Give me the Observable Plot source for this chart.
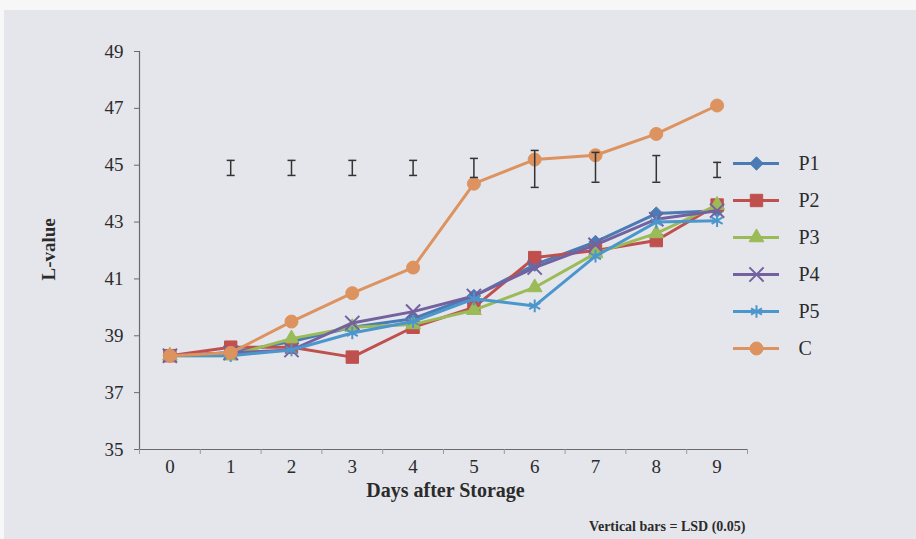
<!DOCTYPE html>
<html><head><meta charset="utf-8">
<script src="https://cdn.jsdelivr.net/npm/d3@7"></script>
<script src="https://cdn.jsdelivr.net/npm/@observablehq/plot@0.6"></script>
<style>
html,body{margin:0;padding:0;background:#f7f7f8;width:916px;height:539px;overflow:hidden;}
#bg{position:absolute;left:4px;top:10px;width:912px;height:529px;background:#e5e6eb;}
#chart{position:absolute;left:0;top:0;}
#legend{position:absolute;left:720px;top:143px;}
</style></head><body>
<div id="bg"></div><div id="chart"></div><div id="legend"></div>
<script>
// ---- data ----
const days = [0, 1, 2, 3, 4, 5, 6, 7, 8, 9];
const seriesNames = ["P1", "P2", "P3", "P4", "P5", "C"];
const P1 = [38.3, 38.4, 38.8, 39.3, 39.6, 40.4, 41.5, 42.3, 43.3, 43.4];
const P2 = [38.3, 38.6, 38.6, 38.25, 39.3, 40.0, 41.75, 42.0, 42.35, 43.6];
const P3 = [38.3, 38.3, 38.9, 39.3, 39.4, 39.9, 40.7, 41.9, 42.6, 43.6];
const P4 = [38.3, 38.4, 38.5, 39.45, 39.85, 40.4, 41.4, 42.2, 43.1, 43.4];
const P5 = [38.3, 38.3, 38.5, 39.1, 39.5, 40.3, 40.05, 41.8, 43.0, 43.05];
const C  = [38.3, 38.4, 39.5, 40.5, 41.4, 44.35, 45.2, 45.35, 46.1, 47.1];
const lsdDays = [1, 2, 3, 4, 5, 6, 7, 8, 9];
const lsdLow  = [44.64, 44.64, 44.64, 44.64, 44.57, 44.22, 44.4, 44.4, 44.57];
const lsdHigh = [45.17, 45.17, 45.17, 45.17, 45.24, 45.52, 45.45, 45.34, 45.1];
const yTicks = [35, 37, 39, 41, 43, 45, 47, 49];
const xTitle = "Days after Storage";
const yTitle = "L-value";
const note = "Vertical bars = LSD (0.05)";

// ---- styles ----
const values = [P1, P2, P3, P4, P5, C];
const colors = ["#4a7bb4", "#c0504d", "#9bbb59", "#7461a0", "#4b96cc", "#dd935f"];
const symbols = ["diamond2", "square", "triangle", "times", "asterisk", "circle"];
const hollow = [false, false, false, true, true, false];
const radii = [6, 7, 5.5, 6.5, 6, 6.5];
const font = "'Liberation Serif', 'Times New Roman', serif";
const ink = "#2b2b2b";
const axisInk = "#6a6a6a";

const capSymbol = {draw(ctx, size) {const r = Math.sqrt(size / Math.PI); ctx.moveTo(-r, 0); ctx.lineTo(r, 0);}};
const lsdRows = lsdDays.map((d, i) => ({day: d, low: lsdLow[i], high: lsdHigh[i]}));
const capRows = lsdRows.flatMap(r => [{day: r.day, v: r.low}, {day: r.day, v: r.high}]);
const betweenTicks = [-0.5, ...days.map(d => d + 0.5)];

const seriesMarks = seriesNames.flatMap((s, i) => [
  Plot.line(days, {x: d => d, y: (d, j) => values[i][j], stroke: colors[i], strokeWidth: 3}),
  Plot.dot(days, {x: d => d, y: (d, j) => values[i][j], symbol: symbols[i], r: radii[i],
    fill: hollow[i] ? "none" : colors[i], stroke: colors[i], strokeWidth: hollow[i] ? 2 : 1})
]);

const chart = Plot.plot({
  width: 916, height: 539,
  marginLeft: 139, marginRight: 169, marginTop: 51, marginBottom: 90,
  x: {domain: [-0.5, 9.5]},
  y: {domain: [35, 49]},
  style: {background: "transparent", fontFamily: font, color: ink, overflow: "visible"},
  marks: [
    Plot.ruleY([35], {stroke: axisInk, strokeWidth: 1.2}),
    Plot.ruleX([-0.5], {y1: 35, y2: 49, stroke: axisInk, strokeWidth: 1.2}),
    Plot.axisY(yTicks, {tickSize: 5, tickPadding: 11, fontSize: 19, fontFamily: font, label: null, stroke: axisInk, fill: ink}),
    Plot.axisX(betweenTicks, {tickSize: 5, tickFormat: () => "", label: null, stroke: "#9a9a9a"}),
    Plot.axisX(days, {tickSize: 0, tickPadding: 10, fontSize: 19, fontFamily: font, label: null, fill: ink}),
    ...seriesMarks,
    Plot.ruleX(lsdRows, {x: "day", y1: "low", y2: "high", stroke: "#333", strokeWidth: 1.5}),
    Plot.dot(capRows, {x: "day", y: "v", symbol: capSymbol, r: 4, fill: "none", stroke: "#333", strokeWidth: 1.5}),
    Plot.text([xTitle], {frameAnchor: "bottom", text: d => d, dx: 2, dy: 47, lineAnchor: "bottom",
      fontSize: 20, fontWeight: "bold", fontFamily: font, fill: ink, style: "letter-spacing:1px"}),
    Plot.text([yTitle], {frameAnchor: "left", text: d => d, rotate: -90, dx: -91, dy: 30,
      fontSize: 19, fontWeight: "bold", fontFamily: font, fill: ink}),
    Plot.text([note], {frameAnchor: "bottom-right", text: d => d, dx: -2, dy: 81, lineAnchor: "bottom",
      textAnchor: "end", fontSize: 14, fontWeight: "bold", fontFamily: font, fill: ink})
  ]
});
document.getElementById("chart").append(chart);

const legend = Plot.plot({
  width: 120, height: 230, margin: 0,
  x: {domain: [0, 1], range: [13, 59], axis: null},
  y: {domain: seriesNames, range: [19, 206.5], type: "point", padding: 0, axis: null},
  style: {background: "transparent", fontFamily: font, color: ink, overflow: "visible"},
  marks: seriesNames.flatMap((s, i) => [
    Plot.ruleY([s], {x1: 0, x2: 1, stroke: colors[i], strokeWidth: 3}),
    Plot.dot([s], {x: 0.5, y: d => d, symbol: symbols[i], r: radii[i],
      fill: hollow[i] ? "none" : colors[i], stroke: colors[i], strokeWidth: hollow[i] ? 2 : 1}),
    Plot.text([s], {x: 1, y: d => d, text: d => d, dx: 19, textAnchor: "start", fontSize: 20, fontFamily: font, fill: ink})
  ])
});
document.getElementById("legend").append(legend);
</script>
</body></html>
